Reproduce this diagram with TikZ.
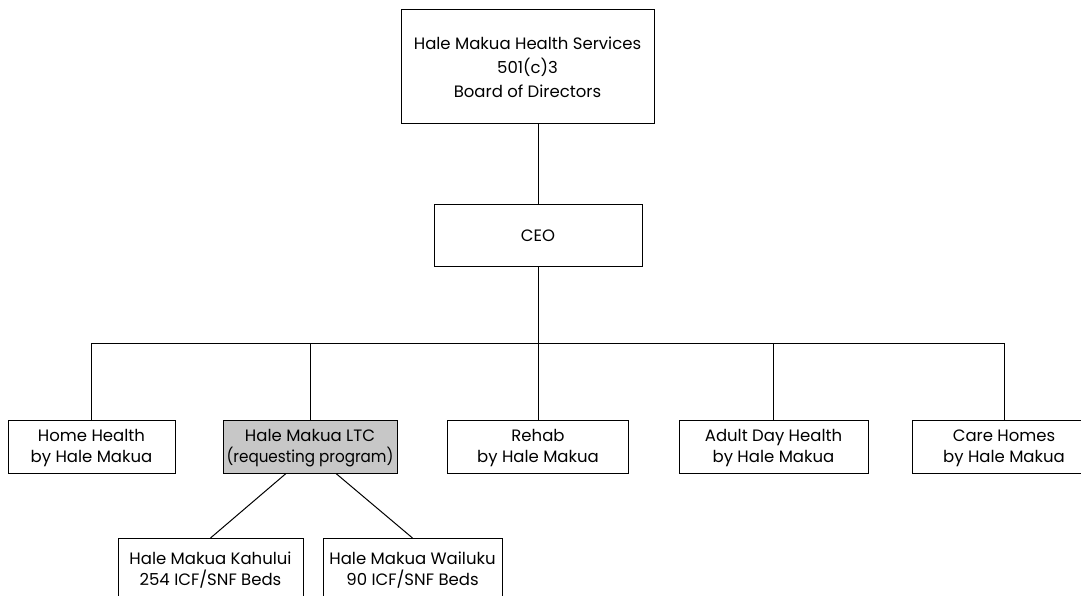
\documentclass[tikz,border=0pt]{standalone}
\usepackage{fontspec}
\usepackage{graphicx}
\setmainfont{Poppins}
\newcommand\toprule{\rule{0pt}{16pt}}
\begin{document}
\begin{tikzpicture}[x=1pt,y=-1pt,
  box/.style={draw=black, line width=1pt, rectangle, align=center, inner sep=0pt,
    font=\fontsize{16.5}{24}\selectfont},
  unit/.style={box, font=\fontsize{16.5}{21}\selectfont},
  conn/.style={draw=black, line width=1pt}]
\clip (0,0) rectangle (1081,596);
\fill[white] (0,0) rectangle (1081,596);
\node[box, minimum width=253, minimum height=114] (board) at (527.5,67)
  {Hale Makua Health Services\\501(c)3\\Board of Directors};
\node[box, minimum width=208, minimum height=61] (ceo) at (538,235.5) {CEO};
\node[unit, minimum width=167, minimum height=53] (home) at (91.5,446.5) {\toprule Home Health\\by Hale Makua};
\node[unit, minimum width=174, minimum height=53, fill=black!22] (ltc) at (310,446.5) {\toprule Hale Makua LTC\\\scalebox{0.92}[1]{(requesting program)}};
\node[unit, minimum width=181, minimum height=53] (rehab) at (538,446.5) {\toprule Rehab\\by Hale Makua};
\node[unit, minimum width=189, minimum height=53] (adult) at (773.5,446.5) {\toprule Adult Day Health\\by Hale Makua};
\node[unit, minimum width=184, minimum height=53] (care) at (1004,446.5) {\toprule Care Homes\\by Hale Makua};
\node[unit, minimum width=185, minimum height=60, anchor=north] (kah) at (210.5,538) {\toprule Hale Makua Kahului\\254 ICF/SNF Beds};
\node[unit, minimum width=179, minimum height=60, anchor=north] (wai) at (412.5,538) {\toprule Hale Makua Wailuku\\90 ICF/SNF Beds};
\coordinate (bus) at (0,343);
\draw[conn] (ceo.north) -- (ceo.north |- board.south);
\draw[conn] (ceo.south) -- (rehab.north);
\draw[conn] (home.north) |- (bus -| care.north) -- (care.north);
\draw[conn] (ltc.north) -- (ltc.north |- bus);
\draw[conn] (adult.north) -- (adult.north |- bus);
\draw[conn] ([xshift=-24pt]ltc.south) -- (kah.north);
\draw[conn] ([xshift=26pt]ltc.south) -- (wai.north);
\end{tikzpicture}
\end{document}
